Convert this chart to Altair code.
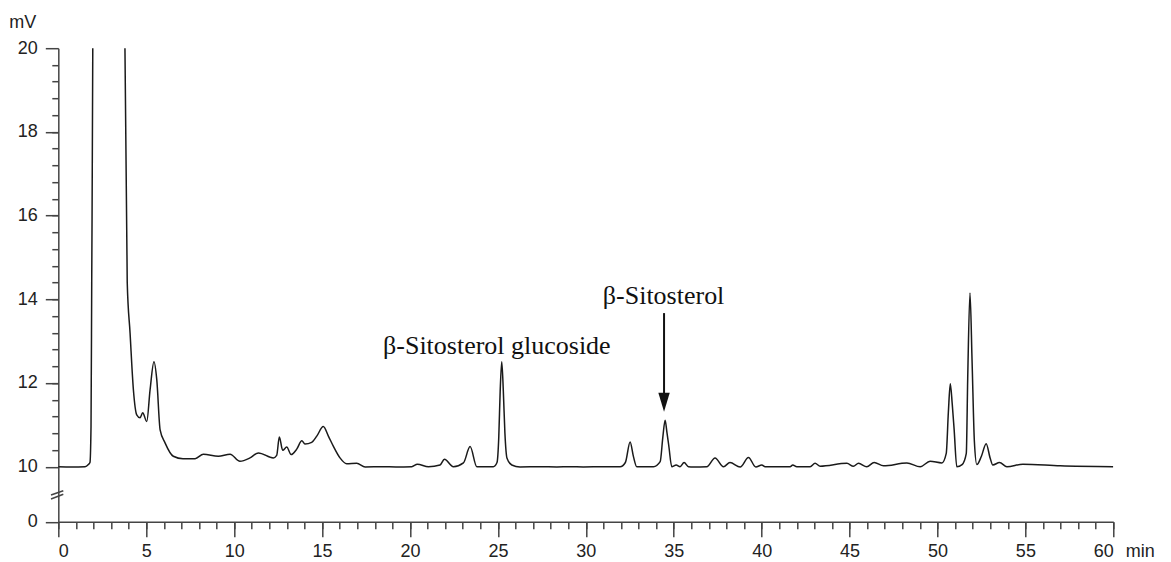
import altair as alt
import pandas as pd

# Chromatogram trace (retention time in min, signal in mV)
T = [0, 0.76, 1.52, 1.71, 1.80, 1.86, 1.90, 1.96, 2.05, 2.4, 2.9, 3.4, 3.7, 3.79, 3.92,
     4.08, 4.27, 4.46, 4.65, 4.80, 5.03, 5.22, 5.44, 5.60, 5.79, 6.07, 6.54, 7.09, 7.78,
     8.25, 9.10, 9.77, 10.33, 10.90, 11.38, 12.23, 12.42, 12.57, 12.76, 12.99, 13.24,
     13.56, 13.85, 14.03, 14.41, 14.70, 15.07, 15.36, 15.64, 16.02, 16.4, 16.97, 17.45,
     18.45, 19.2, 20.1, 20.42, 21.05, 21.71, 21.96, 22.47, 23.04, 23.42, 23.8, 24.74,
     24.95, 25.05, 25.13, 25.22, 25.31, 25.40, 25.52, 25.79, 26.26, 27.4, 28.35, 29.1,
     29.86, 31.0, 31.95, 32.25, 32.52, 32.71, 32.9, 33.85, 34.23, 34.38, 34.51, 34.62,
     34.72, 34.89, 35.14, 35.36, 35.59, 35.84, 36.12, 36.88, 37.35, 37.83, 38.2, 38.78,
     39.25, 39.67, 40.01, 40.2, 41.62, 41.77, 42.0, 42.76, 43.04, 43.33, 44.85, 45.22,
     45.51, 45.98, 46.4, 46.93, 48.26, 49.02, 49.58, 50.25, 50.5, 50.62, 50.73, 50.84,
     50.95, 51.1, 51.4, 51.64, 51.72, 51.85, 51.97, 52.1, 52.24, 52.5, 52.77, 53.0,
     53.15, 53.53, 53.95, 54.86, 56.98, 60.0]
V = [9.98, 9.93, 9.97, 10.05, 10.1, 10.95, 14.4, 20.0, 40.0, 80.0, 90.0, 70.0, 30.0, 20.0, 14.4,
     13.2, 11.84, 11.24, 11.17, 11.29, 11.08, 11.84, 12.51, 12.08, 10.88, 10.57, 10.25, 10.19, 10.19,
     10.30, 10.25, 10.30, 10.13, 10.21, 10.33, 10.21, 10.27, 10.71, 10.39, 10.47, 10.29,
     10.42, 10.62, 10.54, 10.58, 10.73, 10.96, 10.73, 10.49, 10.21, 10.07, 10.08, 9.95,
     9.99, 9.96, 10.0, 10.06, 9.99, 10.04, 10.18, 10.0, 10.09, 10.48, 10.0, 10.0,
     10.1, 10.7, 11.8, 12.51, 11.8, 10.8, 10.2, 10.04, 9.95, 10.0, 9.96, 10.0,
     9.96, 10.0, 9.98, 10.1, 10.59, 10.24, 9.98, 10.0, 10.12, 10.7, 11.11, 10.8,
     10.5, 10.0, 10.04, 9.98, 10.1, 9.98, 9.94, 10.0, 10.21, 9.98, 10.1, 9.94,
     10.22, 9.94, 10.04, 9.99, 9.99, 10.04, 9.99, 9.99, 10.08, 10.01, 10.08, 10.01,
     10.08, 9.99, 10.1, 10.02, 10.09, 9.99, 10.13, 10.09, 10.32, 11.3, 11.98, 11.5,
     10.88, 9.98, 10.05, 10.32, 12.1, 14.15, 12.5, 10.6, 10.05, 10.25, 10.55, 10.2,
     10.04, 10.1, 9.99, 10.06, 10.02, 10.0]

# Axis ticks
x_major = [0, 5, 10, 15, 20, 25, 30, 35, 40, 45, 50, 55, 60]
x_minor = list(range(0, 61))
y_major = [0, 10, 12, 14, 16, 18, 20]
y_minor = [round(10 + 0.4 * i, 1) for i in range(1, 25)]

# Annotations
label_text = ["β-Sitosterol glucoside", "β-Sitosterol"]
label_t = [18.47, 30.97]
label_v = [12.69, 13.89]
arrow_t = [34.45]
arrow_top = [13.67]
arrow_base = [11.6]
arrow_tip = [11.31]

# Axis break marks
brk_t1 = [-0.415, -0.415]
brk_t2 = [0.284, 0.284]
brk_v1 = [4.85, 4.13]
brk_v2 = [5.64, 4.98]

W = 1055
H = 473.5
xs = alt.Scale(domain=[0, 60], nice=False, zero=False)
ys = alt.Scale(domain=[0, 10, 20], range=[H, 418.5, 0], nice=False, zero=False)

df = pd.DataFrame({"t": T, "v": V})

line = alt.Chart(df).mark_line(color="#1a1a1a", strokeWidth=1.5, interpolate="monotone", clip=True).encode(
    x=alt.X("t:Q", scale=xs, axis=alt.Axis(values=x_major, format="d", tickSize=15, labelPadding=6,
                                         title="min", titleX=W + 12, titleY=35, titleAlign="left",
                                         titleBaseline="alphabetic", titleAngle=0)),
    y=alt.Y("v:Q", scale=ys, axis=alt.Axis(values=y_major, format="d", tickSize=13, labelPadding=8,
                                         title="mV", titleX=-49.5, titleY=-21, titleAlign="left",
                                         titleBaseline="alphabetic", titleAngle=0)),
)

minor = alt.Chart(df).mark_point(opacity=0).encode(
    x=alt.X("t:Q", scale=xs, axis=alt.Axis(values=x_minor, tickSize=7, labels=False, domain=False,
                                         title=None, orient="bottom")),
    y=alt.Y("v:Q", scale=ys, axis=alt.Axis(values=y_minor, tickSize=6.5, labels=False, domain=False,
                                         title=None, orient="left")),
)

labels = alt.Chart(pd.DataFrame({"t": label_t, "v": label_v, "text": label_text})).mark_text(
    font="Liberation Serif", fontSize=26, align="left", baseline="alphabetic", color="#111"
).encode(
    x=alt.X("t:Q", scale=xs, axis=None),
    y=alt.Y("v:Q", scale=ys, axis=None),
    text="text:N",
)

arrow_df = pd.DataFrame({"t": arrow_t, "v1": arrow_top, "v2": arrow_base, "tip": arrow_tip})
arrow_line = alt.Chart(arrow_df).mark_rule(color="#111", strokeWidth=2).encode(
    x=alt.X("t:Q", scale=xs, axis=None),
    y=alt.Y("v1:Q", scale=ys, axis=None),
    y2="v2:Q",
)
arrow_head = alt.Chart(arrow_df).mark_point(
    shape="M -0.3 -1 L 0.3 -1 L 0 0 Z", size=1444, filled=True, opacity=1, color="#111"
).encode(
    x=alt.X("t:Q", scale=xs, axis=None),
    y=alt.Y("tip:Q", scale=ys, axis=None),
)

brk = alt.Chart(pd.DataFrame({"t1": brk_t1, "t2": brk_t2, "v1": brk_v1, "v2": brk_v2})).mark_rule(
    color="#444", strokeWidth=1.5
).encode(
    x=alt.X("t1:Q", scale=xs, axis=None),
    x2="t2:Q",
    y=alt.Y("v1:Q", scale=ys, axis=None),
    y2="v2:Q",
)

chart = alt.layer(line, minor, labels, arrow_line, arrow_head, brk).resolve_scale(
    x="independent", y="independent"
).properties(
    width=W, height=H,
    autosize=alt.AutoSizeParams(type="none"),
    padding={"left": 50.3, "top": 40.2, "right": 49.7, "bottom": 40},
).configure_view(stroke=None).configure_axis(
    domainColor="#444", tickColor="#444", domainWidth=1.5, tickWidth=1.5,
    labelColor="#222", labelFont="Liberation Sans", labelFontSize=18,
    titleColor="#222", titleFont="Liberation Sans", titleFontSize=18, titleFontWeight="normal",
    grid=False,
)

chart.save("out.html", embed_options={"renderer": "svg", "actions": False})
